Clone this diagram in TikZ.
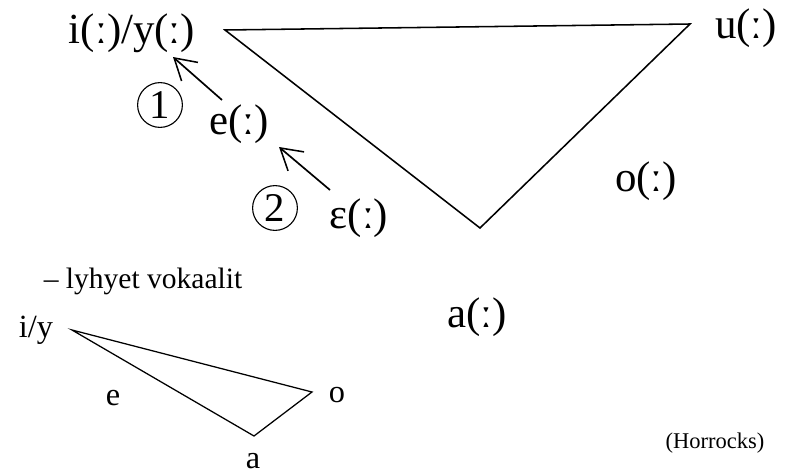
\documentclass[tikz,border=0pt]{standalone}
\usepackage{fontspec}
\setmainfont{Liberation Serif}
\usepackage{tikz}
\usetikzlibrary{arrows.meta, positioning, calc}
\tikzset{
	vowel/.style   ={inner sep=0pt, font=\fontsize{30.5}{34}\selectfont},
	svowel/.style  ={inner sep=0pt, font=\fontsize{23}{26}\selectfont},
	stepnum/.style ={circle, draw=black, line width=0.8pt, minimum size=1.12cm, inner sep=0pt, font=\fontsize{29}{32}\selectfont},
	tri/.style     ={line width=1.1pt, line join=miter},
	shiftarr/.style={-{Straight Barb[length=5.2mm, width=6.2mm, line width=1.1pt]}, line width=1.2pt},
}
\begin{document}
\begin{tikzpicture}[x=0.025cm, y=-0.025cm]
	\useasboundingbox (0,0) rectangle (791,474);
	% long vowels
	\coordinate (ti) at (225,30);
	\coordinate (tu) at (690,24);
	\coordinate (ta) at (480,228);
	\draw[tri] (ti) -- (tu) -- (ta) -- cycle;
	\node[vowel] (iy) at (132,33) {i(ː)/y(ː)};
	\node[vowel] (u) at (746,28) {u(ː)};
	\node[vowel] (e) at (239,124) {e(ː)};
	\node[vowel] (eps) at (359,218) {ɛ(ː)};
	\node[vowel] (o) at (646,181) {o(ː)};
	\node[vowel] (a) at (477,317) {a(ː)};
	\node[stepnum] (one) at (160,105) {1};
	\node[stepnum] (two) at (275,208) {2};
	\coordinate (s1) at (222,100); \coordinate (t1) at (173,57);
	\coordinate (s2) at (330,190); \coordinate (t2) at (279,147);
	\draw[shiftarr] (s1) -- (t1);
	\draw[shiftarr] (s2) -- (t2);
	% short vowels
	\node[font=\fontsize{21}{24}\selectfont] (title) at (143,281) {– lyhyet vokaalit};
	\coordinate (si) at (72,330);
	\coordinate (so) at (312,392);
	\coordinate (sa) at (254,436);
	\draw[tri, line width=0.9pt] (si) -- (so) -- (sa) -- cycle;
	\node[svowel] (siy) at (36,330) {i/y};
	\node[svowel] (se) at (113,398) {e};
	\node[svowel] (so2) at (337,395) {o};
	\node[svowel] (sa2) at (253,461) {a};
	\node[font=\fontsize{16}{18}\selectfont] (src) at (715,443) {(Horrocks)};
\end{tikzpicture}
\end{document}
